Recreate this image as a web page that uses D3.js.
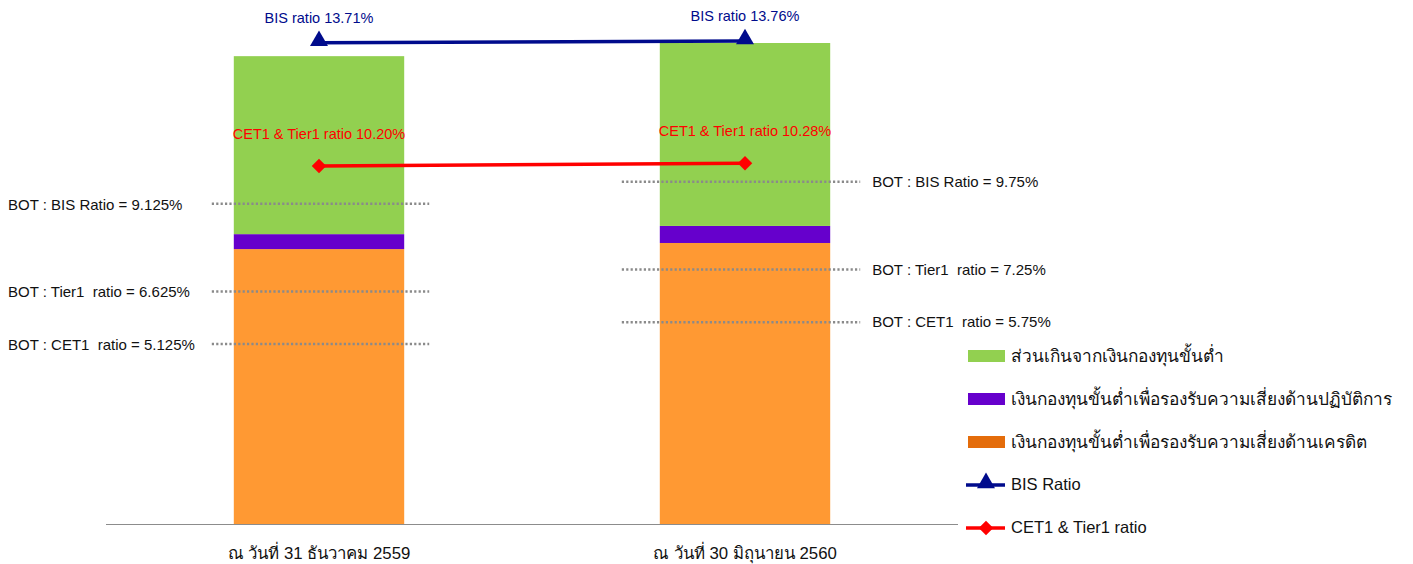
<!DOCTYPE html>
<html>
<head>
<meta charset="utf-8">
<script src="https://cdn.jsdelivr.net/npm/d3@7"></script>
<style>
  body { margin: 0; background: #fff; }
  text { font-family: "Liberation Sans", Arial, sans-serif; }
</style>
</head>
<body>
<div id="canvas"></div>
<script>
// categories (reporting dates)
const categories = ["ณ วันที่ 31 ธันวาคม 2559", "ณ วันที่ 30 มิถุนายน 2560"];

// stacked capital components (million baht)
const creditRisk = [13060, 13350];
const operationalRisk = [710, 810];
const excessCapital = [8455, 8690];

// ratio lines (%)
const bisRatio = [13.71, 13.76];
const cet1Ratio = [10.20, 10.28];

// BOT minimum requirements (%)
const botBis = [9.125, 9.75];
const botTier1 = [6.625, 7.25];
const botCet1 = [5.125, 5.75];

const seriesNames = [
  "ส่วนเกินจากเงินกองทุนขั้นต่ำ",
  "เงินกองทุนขั้นต่ำเพื่อรองรับความเสี่ยงด้านปฏิบัติการ",
  "เงินกองทุนขั้นต่ำเพื่อรองรับความเสี่ยงด้านเครดิต"
];
const lineNames = ["BIS Ratio", "CET1 & Tier1 ratio"];

const width = 1413;
const height = 564;
const base = 524;

const svg = d3.select("#canvas").append("svg")
  .attr("width", width)
  .attr("height", height);

const x = d3.scaleBand()
  .domain(categories)
  .range([106, 958])
  .paddingInner(0.6)
  .paddingOuter(0.3);

const y = d3.scaleLinear().domain([0, 20000]).range([base, 103]);
const yr = d3.scaleLinear().domain([0, 15]).range([base, base - 15 * 35.1]);

// stacked bars
const rows = categories.map((c, i) => ({
  cat: c, credit: creditRisk[i], oper: operationalRisk[i], excess: excessCapital[i]
}));
const stack = d3.stack().keys(["credit", "oper", "excess"])(rows);
const barColors = { credit: "#FF9933", oper: "#6600CC", excess: "#92D050" };

svg.append("g").selectAll("g")
  .data(stack)
  .join("g")
  .attr("fill", d => barColors[d.key])
  .selectAll("rect")
  .data(d => d)
  .join("rect")
  .attr("x", d => x(d.data.cat))
  .attr("y", d => y(d[1]))
  .attr("width", x.bandwidth())
  .attr("height", d => y(d[0]) - y(d[1]));

// x axis
svg.append("line")
  .attr("x1", 106).attr("x2", 958)
  .attr("y1", base + 0.5).attr("y2", base + 0.5)
  .attr("stroke", "#8c8c8c").attr("stroke-width", 1.2);

svg.append("g").selectAll("text")
  .data(categories)
  .join("text")
  .attr("x", d => x(d) + x.bandwidth() / 2)
  .attr("y", 559)
  .attr("text-anchor", "middle")
  .attr("font-size", 16.8)
  .attr("fill", "#111")
  .text(d => d);

// BOT requirement dotted lines
const botSets = [
  { vals: botBis, label: v => `BOT : BIS Ratio = ${v}%` },
  { vals: botTier1, label: v => `BOT : Tier1  ratio = ${v}%` },
  { vals: botCet1, label: v => `BOT : CET1  ratio = ${v}%` }
];
const botG = svg.append("g");
botSets.forEach(s => {
  categories.forEach((c, i) => {
    const x0 = x(c) - (i === 0 ? 22 : 38);
    const x1 = x(c) + x.bandwidth() + (i === 0 ? 25 : 30);
    const yy = yr(s.vals[i]);
    botG.append("line")
      .attr("x1", x0).attr("x2", x1)
      .attr("y1", yy).attr("y2", yy)
      .attr("stroke", "#8a8a8a")
      .attr("stroke-width", 2.5)
      .attr("stroke-dasharray", "2.2 2.2");
    botG.append("text")
      .attr("x", i === 0 ? 8 : x1 + 12)
      .attr("y", yy + (i === 0 ? 6 : 5))
      .attr("font-size", 15)
      .attr("fill", "#111")
      .attr("xml:space", "preserve")
      .style("white-space", "pre")
      .text(s.label(s.vals[i]));
  });
});

// ratio lines
const cx = c => x(c) + x.bandwidth() / 2;
const lineGen = d3.line().x(d => cx(d.c)).y(d => yr(d.v));
const blue = "#000B8C";
const red = "#FF0000";

const bisPts = categories.map((c, i) => ({ c, v: bisRatio[i] }));
const cetPts = categories.map((c, i) => ({ c, v: cet1Ratio[i] }));

svg.append("path").datum(bisPts).attr("d", lineGen)
  .attr("fill", "none").attr("stroke", blue).attr("stroke-width", 3.5);
svg.append("path").datum(cetPts).attr("d", lineGen)
  .attr("fill", "none").attr("stroke", red).attr("stroke-width", 3.5);

const tri = d3.symbol().type(d3.symbolTriangle).size(140);
const dia = d3.symbol().type(d3.symbolSquare).size(105);

svg.append("g").selectAll("path").data(bisPts).join("path")
  .attr("transform", d => `translate(${cx(d.c)},${yr(d.v) - 2})`)
  .attr("d", tri).attr("fill", blue);
svg.append("g").selectAll("path").data(cetPts).join("path")
  .attr("transform", d => `translate(${cx(d.c)},${yr(d.v)}) rotate(45)`)
  .attr("d", dia).attr("fill", red);

svg.append("g").selectAll("text").data(bisPts).join("text")
  .attr("x", d => cx(d.c))
  .attr("y", d => yr(d.v) - 20)
  .attr("text-anchor", "middle")
  .attr("font-size", 14.5)
  .attr("fill", blue)
  .text(d => `BIS ratio ${d.v.toFixed(2)}%`);
svg.append("g").selectAll("text").data(cetPts).join("text")
  .attr("x", d => cx(d.c))
  .attr("y", d => yr(d.v) - 27)
  .attr("text-anchor", "middle")
  .attr("font-size", 14.5)
  .attr("fill", red)
  .text(d => `CET1 & Tier1 ratio ${d.v.toFixed(2)}%`);

// legend
const legend = svg.append("g").attr("transform", "translate(968,0)");
const legendColors = ["#92D050", "#6600CC", "#E46C0A"];
const legendY = d3.scalePoint().domain(d3.range(5)).range([356, 528]);

seriesNames.forEach((n, i) => {
  legend.append("rect")
    .attr("x", 0).attr("y", legendY(i) - 6)
    .attr("width", 37).attr("height", 12)
    .attr("fill", legendColors[i]);
  legend.append("text")
    .attr("x", 43).attr("y", legendY(i) + 6)
    .attr("font-size", 17.3)
    .attr("fill", "#111")
    .text(n);
});
lineNames.forEach((n, j) => {
  const i = j + 3;
  const col = j === 0 ? blue : red;
  legend.append("line")
    .attr("x1", -2).attr("x2", 37)
    .attr("y1", legendY(i)).attr("y2", legendY(i))
    .attr("stroke", col).attr("stroke-width", 3.5);
  legend.append("path")
    .attr("transform", j === 0
      ? `translate(18,${legendY(i) - 2})`
      : `translate(18,${legendY(i)}) rotate(45)`)
    .attr("d", j === 0 ? tri : dia)
    .attr("fill", col);
  legend.append("text")
    .attr("x", 43).attr("y", legendY(i) + 5)
    .attr("font-size", 16.5)
    .attr("fill", "#111")
    .text(n);
});
</script>
</body>
</html>
